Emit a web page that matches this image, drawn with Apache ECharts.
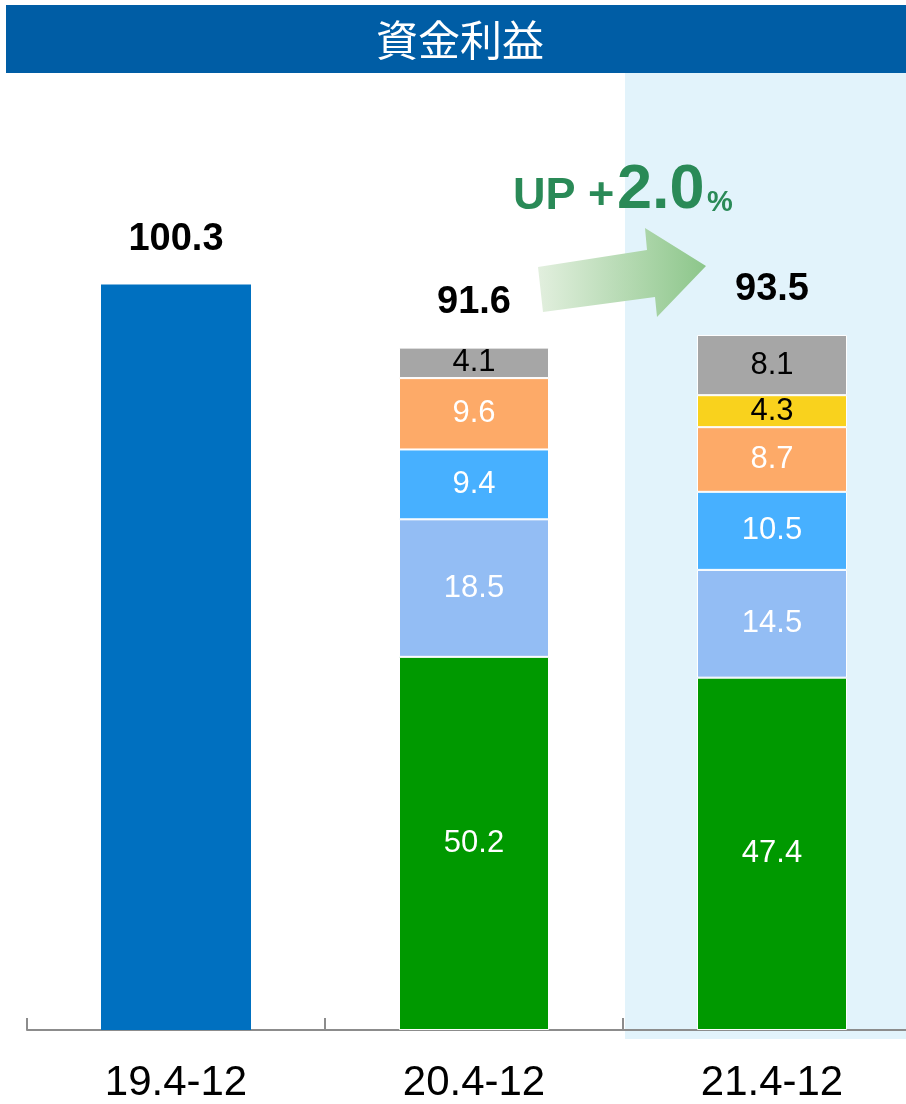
<!DOCTYPE html>
<html style="height: 100%">
<head>
    <meta charset="utf-8">
    <title>資金利益</title>
    <script type="text/javascript" src="https://cdn.jsdelivr.net/npm/echarts@6/dist/echarts.min.js"></script>
</head>
<body style="width: 100%;margin: 0;height: 100%;overflow: hidden">
<!-- 右端の区分が画面外まで続くので少し広めに描く -->
<div id="container" style="width: 924px;height: 1104px"></div>

<script type="application/javascript">

    // 期間
    var categories = ['19.4-12', '20.4-12', '21.4-12'];

    // 19.4-12 は内訳なし
    var prevBar = [100.3, '-', '-'];

    // 内訳 (下から)
    var segGreen = ['-', 50.2, 47.4];
    var segLightBlue = ['-', 18.5, 14.5];
    var segBlue = ['-', 9.4, 10.5];
    var segOrange = ['-', 9.6, 8.7];
    var segYellow = ['-', '-', 4.3];
    var segGray = ['-', 4.1, 8.1];

    // 合計ラベル
    var totals = [100.3, 91.6, 93.5];
    var totalBase = [0, 0, 0];

    var font = "'Liberation Sans', Arial, sans-serif";

    function segment(name, data, color, textColor) {
        return {
            name: name,
            type: 'bar',
            stack: 'a',
            barWidth: 150,
            data: data,
            itemStyle: {color: color, borderColor: '#fff', borderWidth: 1},
            label: {
                show: true,
                position: 'inside',
                color: textColor,
                fontSize: 31,
                fontFamily: font,
                formatter: function (p) {
                    return p.value.toFixed(1);
                }
            }
        };
    }

    var dom = document.getElementById("container");
    var myChart = echarts.init(dom);

    var option = {
        animation: false,
        backgroundColor: '#fff',
        grid: {
            left: 27,
            right: 3,
            top: 138,
            bottom: 70
        },
        xAxis: {
            type: 'category',
            data: categories,
            axisLine: {lineStyle: {color: '#8c8c8c', width: 2}},
            axisTick: {
                show: true,
                interval: 0,
                inside: true,
                length: 12,
                lineStyle: {color: '#8c8c8c', width: 2}
            },
            axisLabel: {
                color: '#000',
                fontSize: 42,
                fontFamily: font,
                margin: 32
            }
        },
        yAxis: {
            type: 'value',
            min: 0,
            max: 120,
            show: false
        },
        graphic: [
            {
                type: 'rect',
                z: -10,
                shape: {x: 625, y: 73, width: 299, height: 966},
                style: {fill: '#e2f3fb'}
            },
            {
                type: 'rect',
                shape: {x: 6, y: 5, width: 918, height: 68},
                style: {fill: '#005da5'}
            },
            {
                type: 'text',
                x: 460,
                y: 40,
                style: {
                    text: '資金利益',
                    fill: '#fff',
                    font: "42px 'Noto Sans CJK JP', sans-serif",
                    textAlign: 'center',
                    textVerticalAlign: 'middle'
                }
            },
            {
                type: 'polygon',
                shape: {
                    points: [[538, 267], [647, 250], [645, 228], [706, 266], [657, 317], [655, 297], [543, 312]]
                },
                style: {
                    fill: new echarts.graphic.LinearGradient(0, 0, 1, 0, [
                        {offset: 0, color: '#e2efde'},
                        {offset: 1, color: '#8cc68a'}
                    ])
                }
            },
            {
                type: 'text',
                x: 513,
                y: 197,
                style: {
                    text: 'UP +',
                    fill: '#2a8a57',
                    font: "bold 45px 'Liberation Sans', Arial, sans-serif",
                    textVerticalAlign: 'middle'
                }
            },
            {
                type: 'text',
                x: 617,
                y: 191,
                style: {
                    text: '2.0',
                    fill: '#2a8a57',
                    font: "bold 63px 'Liberation Sans', Arial, sans-serif",
                    textVerticalAlign: 'middle'
                }
            },
            {
                type: 'text',
                x: 707,
                y: 203,
                style: {
                    text: '%',
                    fill: '#2a8a57',
                    font: "bold 29px 'Liberation Sans', Arial, sans-serif",
                    textVerticalAlign: 'middle'
                }
            }
        ],
        series: [
            {
                name: '19.4-12',
                type: 'bar',
                stack: 'a',
                barWidth: 150,
                data: prevBar,
                itemStyle: {color: '#0070c0'}
            },
            segment('green', segGreen, '#009900', '#fff'),
            segment('lightblue', segLightBlue, '#93bdf4', '#fff'),
            segment('blue', segBlue, '#47b0ff', '#fff'),
            segment('orange', segOrange, '#fdaa68', '#fff'),
            segment('yellow', segYellow, '#f9d21d', '#000'),
            segment('gray', segGray, '#a6a6a6', '#000'),
            {
                name: 'total',
                type: 'bar',
                stack: 'a',
                barWidth: 150,
                data: totalBase,
                itemStyle: {color: 'transparent'},
                label: {
                    show: true,
                    position: 'top',
                    distance: 26,
                    color: '#000',
                    fontSize: 38,
                    fontWeight: 'bold',
                    fontFamily: font,
                    formatter: function (p) {
                        return totals[p.dataIndex].toFixed(1);
                    }
                }
            }
        ]
    };

    myChart.setOption(option);
</script>

</body>
</html>
